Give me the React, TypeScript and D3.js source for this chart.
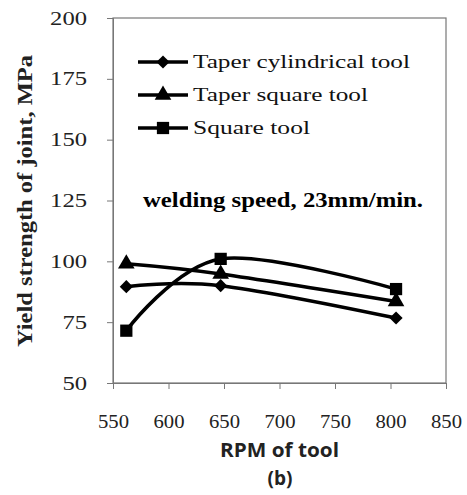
import React, { useRef, useEffect } from "react";
import * as d3 from "d3";

const rpm = [562, 647, 805];
const taperCylindrical = [89.6, 90, 76.7];
const taperSquare = [99, 94.8, 83.5];
const squareTool = [71.5, 101, 88.6];
const seriesNames = ["Taper cylindrical tool", "Taper square tool", "Square tool"];
const markerTypes = ["diamond", "triangle", "square"];
const xTicks = [550, 600, 650, 700, 750, 800, 850];
const yTicks = [50, 75, 100, 125, 150, 175, 200];

const W = 467;
const H = 495;
const m = { left: 113, right: 446, top: 18, bottom: 383 };
const serif = "'Liberation Serif', 'Times New Roman', serif";

export default function App() {
  const ref = useRef<SVGSVGElement>(null);

  useEffect(() => {
    const svg = d3.select(ref.current);
    svg.selectAll("*").remove();

    const x = d3.scaleLinear([550, 850], [m.left, m.right]);
    const y = d3.scaleLinear([50, 200], [m.bottom, m.top]);

    // plot box
    svg.append("rect")
      .attr("x", m.left).attr("y", m.top)
      .attr("width", m.right - m.left).attr("height", m.bottom - m.top)
      .attr("fill", "white").attr("stroke", "#777").attr("stroke-width", 1.2);

    const gy = svg.append("g").attr("transform", `translate(${m.left},0)`)
      .call(d3.axisLeft(y).tickValues(yTicks).tickSize(6).tickPadding(20));
    gy.select(".domain").attr("stroke", "#777");
    gy.selectAll(".tick line").attr("stroke", "#777");
    gy.selectAll("text").attr("font-family", serif)
      .attr("font-size", 19).attr("fill", "#222")
      .attr("textLength", (d: any) => String(d).length * 12.3)
      .attr("lengthAdjust", "spacingAndGlyphs");

    const gx = svg.append("g").attr("transform", `translate(0,${m.bottom})`)
      .call(d3.axisBottom(x).tickValues(xTicks).tickSize(6).tickPadding(26));
    gx.select(".domain").attr("stroke", "#777");
    gx.selectAll(".tick line").attr("stroke", "#777");
    gx.selectAll("text").attr("font-family", serif)
      .attr("font-size", 19).attr("fill", "#222")
      .attr("textLength", 31).attr("lengthAdjust", "spacingAndGlyphs");

    const all = [taperCylindrical, taperSquare, squareTool];
    const line = d3.line<number>()
      .x((d, i) => x(rpm[i]))
      .y(d => y(d))
      .curve(d3.curveCardinal.tension(0));

    const symbolFor = (t: string) =>
      t === "diamond" ? d3.symbol(d3.symbolDiamond2, 110)
        : t === "triangle" ? d3.symbol(d3.symbolTriangle, 120)
          : d3.symbol(d3.symbolSquare, 150);

    all.forEach((vals, k) => {
      svg.append("path").attr("d", line(vals))
        .attr("fill", "none").attr("stroke", "black").attr("stroke-width", 3.5);
      svg.selectAll(null).data(vals).enter().append("path")
        .attr("d", symbolFor(markerTypes[k])())
        .attr("transform", (d, i) => `translate(${x(rpm[i])},${y(d)})`)
        .attr("fill", "black");
    });

    // legend
    const widths = [217, 175, 117];
    const lg = svg.append("g");
    seriesNames.forEach((name, k) => {
      const ly = 62 + k * 33;
      lg.append("line").attr("x1", 138).attr("x2", 188).attr("y1", ly).attr("y2", ly)
        .attr("stroke", "black").attr("stroke-width", 3.5);
      lg.append("path").attr("d", symbolFor(markerTypes[k])())
        .attr("transform", `translate(163,${ly})`).attr("fill", "black");
      lg.append("text").attr("x", 193).attr("y", ly + 6)
        .attr("font-family", serif).attr("font-size", 19)
        .attr("textLength", widths[k]).attr("lengthAdjust", "spacingAndGlyphs")
        .attr("fill", "#111").text(name);
    });

    svg.append("text").attr("x", 143).attr("y", 207)
      .attr("font-family", serif).attr("font-weight", "bold")
      .attr("font-size", 20).attr("textLength", 280).attr("lengthAdjust", "spacingAndGlyphs")
      .text("welding speed, 23mm/min.");

    svg.append("text").attr("transform", `translate(32,347) rotate(-90)`)
      .attr("font-family", serif).attr("font-weight", "bold")
      .attr("font-size", 20).attr("textLength", 292).attr("lengthAdjust", "spacingAndGlyphs")
      .attr("fill", "#222").text("Yield strength of joint, MPa");

    svg.append("text").attr("x", 220).attr("y", 457)
      .attr("font-family", "'Open Sans', sans-serif").attr("font-weight", "bold")
      .attr("font-size", 19).attr("textLength", 119).attr("lengthAdjust", "spacingAndGlyphs")
      .attr("fill", "#222").text("RPM of tool");

    svg.append("text").attr("x", 280).attr("y", 485).attr("text-anchor", "middle")
      .attr("font-family", "'Open Sans', sans-serif").attr("font-weight", "bold")
      .attr("font-size", 19).attr("fill", "#222").text("(b)");
  }, []);

  return (
    <svg ref={ref} width={W} height={H}
      style={{ position: "absolute", left: 0, top: 0, background: "white" }} />
  );
}
